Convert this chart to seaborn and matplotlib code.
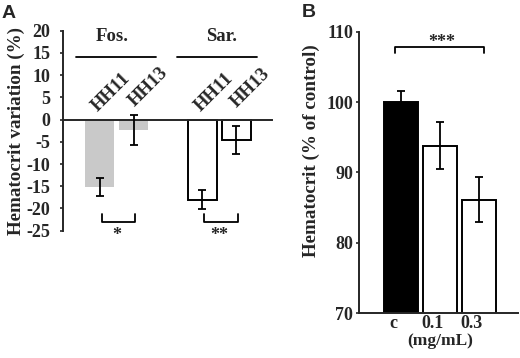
import numpy as np
import pandas as pd
import seaborn as sns
import matplotlib.pyplot as plt
from matplotlib.transforms import ScaledTranslation

# panel A : hematocrit variation per strain
a_groups = ['Fos.', 'Fos.', 'Sar.', 'Sar.']
a_strains = ['HH11', 'HH13', 'HH11', 'HH13']
a_mean = [-15.1, -2.3, -18.0, -4.6]
a_err = [2.0, 3.4, 2.1, 3.1]
a_stars = ['*', '**']

# panel B : hematocrit vs dose
b_dose = ['c', '0.1', '0.3']
b_mean = [100.0, 93.8, 86.1]
b_err = [1.6, 3.3, 3.2]

sns.set_theme(style='ticks')
plt.rcParams['font.family'] = ['Liberation Serif', 'DejaVu Serif']
plt.rcParams['font.weight'] = 'bold'
plt.rcParams['axes.linewidth'] = 1.4
plt.rcParams['axes.unicode_minus'] = False

fig = plt.figure(figsize=(5.2, 3.58), dpi=100)
axa = fig.add_axes([0.1217, 0.3556, 0.4008, 0.5586])
axb = fig.add_axes([0.691, 0.1249, 0.305, 0.7866])

######
# A
######
df_a = pd.DataFrame({'bar': [g + ' ' + s for g, s in zip(a_groups, a_strains)],
                     'val': a_mean})
order = ['Fos. HH11', 'Fos. HH13', '', 'Sar. HH11', 'Sar. HH13']
sns.barplot(data=df_a, x='bar', y='val', order=order, width=0.85,
            color='white', errorbar=None, ax=axa)
bars = sorted(axa.patches, key=lambda p: p.get_x())
xs = [p.get_x() + p.get_width() / 2 for p in bars]
for p, g in zip(bars, a_groups):
    if g == 'Fos.':
        p.set_facecolor('#c9c9c9')
        p.set_edgecolor('none')
    else:
        p.set_facecolor('white')
        p.set_edgecolor('black')
        p.set_linewidth(1.4)
axa.errorbar(xs, a_mean, yerr=a_err, fmt='none', ecolor='black',
             elinewidth=1.3, capsize=3, capthick=1.3, zorder=5)

axa.set_ylim(-25, 20)
axa.set_yticks(np.arange(-25, 21, 5))
axa.set_xlim(-1.06, 5.03)
axa.spines['bottom'].set_position(('data', 0))
for s in ['top', 'right']:
    axa.spines[s].set_visible(False)
axa.tick_params(axis='x', length=0, labelbottom=False)
axa.tick_params(axis='y', length=2.5, width=1.2, pad=7, labelsize=13)
for lbl in axa.get_yticklabels():
    lbl.set_fontweight('bold')
axa.set_xlabel('')
axa.set_ylabel('Hematocrit variation (%)', fontsize=13.7, fontweight='bold')
axa.yaxis.set_label_coords(-0.186, 0.4985)

# strain labels
for x, s, dy in zip(xs, a_strains, [6.1, 7.3, 6.1, 7.1]):
    off = 0.34 if s == 'HH11' else 0.42
    axa.text(x + off, dy, s, rotation=45, ha='center', va='center',
             fontsize=13.5, fontweight='bold', clip_on=False)

# group headers
for g, x0, x1, tx in [('Fos.', -0.69, 1.65, 0.38), ('Sar.', 2.25, 4.61, 3.57)]:
    axa.plot([x0, x1], [14.1, 14.1], color='black', lw=1.3, clip_on=False)
    axa.text(tx, 18.7, g, ha='center', va='center', fontsize=13.5,
             fontweight='bold', clip_on=False)

# significance brackets
for i, st in enumerate(a_stars):
    x0, x1 = xs[2 * i] + 0.06, xs[2 * i + 1] + 0.05
    axa.plot([x0, x0, x1, x1], [-21.2, -23.0, -23.0, -21.2], color='black',
             lw=1.3, clip_on=False)
    axa.text((x0 + x1) / 2 - 0.05, -26.0, st, ha='center', va='center',
             fontsize=13, fontweight='bold', clip_on=False)

######
# B
######
sns.barplot(x=b_dose, y=b_mean, order=b_dose, width=0.87, color='white',
            errorbar=None, ax=axb)
bbars = sorted(axb.patches, key=lambda p: p.get_x())
bxs = [p.get_x() + p.get_width() / 2 for p in bbars]
for i, p in enumerate(bbars):
    p.set_facecolor('black' if i == 0 else 'white')
    p.set_edgecolor('black')
    p.set_linewidth(1.4)
axb.errorbar(bxs, b_mean, yerr=b_err, fmt='none', ecolor='black',
             elinewidth=1.3, capsize=3, capthick=1.3, zorder=5)

axb.set_ylim(70, 110)
axb.set_yticks([70, 80, 90, 100, 110])
axb.set_xlim(-1.08, 2.99)
for s in ['top', 'right']:
    axb.spines[s].set_visible(False)
axb.tick_params(axis='x', length=0, pad=1, labelsize=13)
axb.tick_params(axis='y', length=2.5, width=1.2, pad=2, labelsize=13)
for lbl in axb.get_yticklabels():
    lbl.set_fontweight('bold')
for lbl in axb.get_xticklabels():
    lbl.set_fontweight('bold')
    lbl.set_transform(lbl.get_transform() +
                      ScaledTranslation(-8 / 100, 0, fig.dpi_scale_trans))
axb.set_ylabel('Hematocrit (% of control)', fontsize=13.7, fontweight='bold')
axb.yaxis.set_label_coords(-0.245, 0.576)
axb.text(bxs[1], -0.1, '(mg/mL)', transform=axb.get_xaxis_transform(),
         ha='center', va='center', fontsize=12.5, fontweight='bold')

# bracket
axb.plot([-0.17, -0.17, 2.12, 2.12], [107.0, 107.8, 107.8, 107.0],
         color='black', lw=1.3, clip_on=False)
axb.text(1.03, 108.5, '***', ha='center', va='center', fontsize=13,
         fontweight='bold')

# panel letters
fig.text(8.5 / 520, 1 - 13.5 / 358, 'A', family='Liberation Sans',
         fontweight='bold', fontsize=14, ha='center', va='center')
fig.text(308.5 / 520, 1 - 12.5 / 358, 'B', family='Liberation Sans',
         fontweight='bold', fontsize=14, ha='center', va='center')

fig.savefig('out.png', dpi=100)
